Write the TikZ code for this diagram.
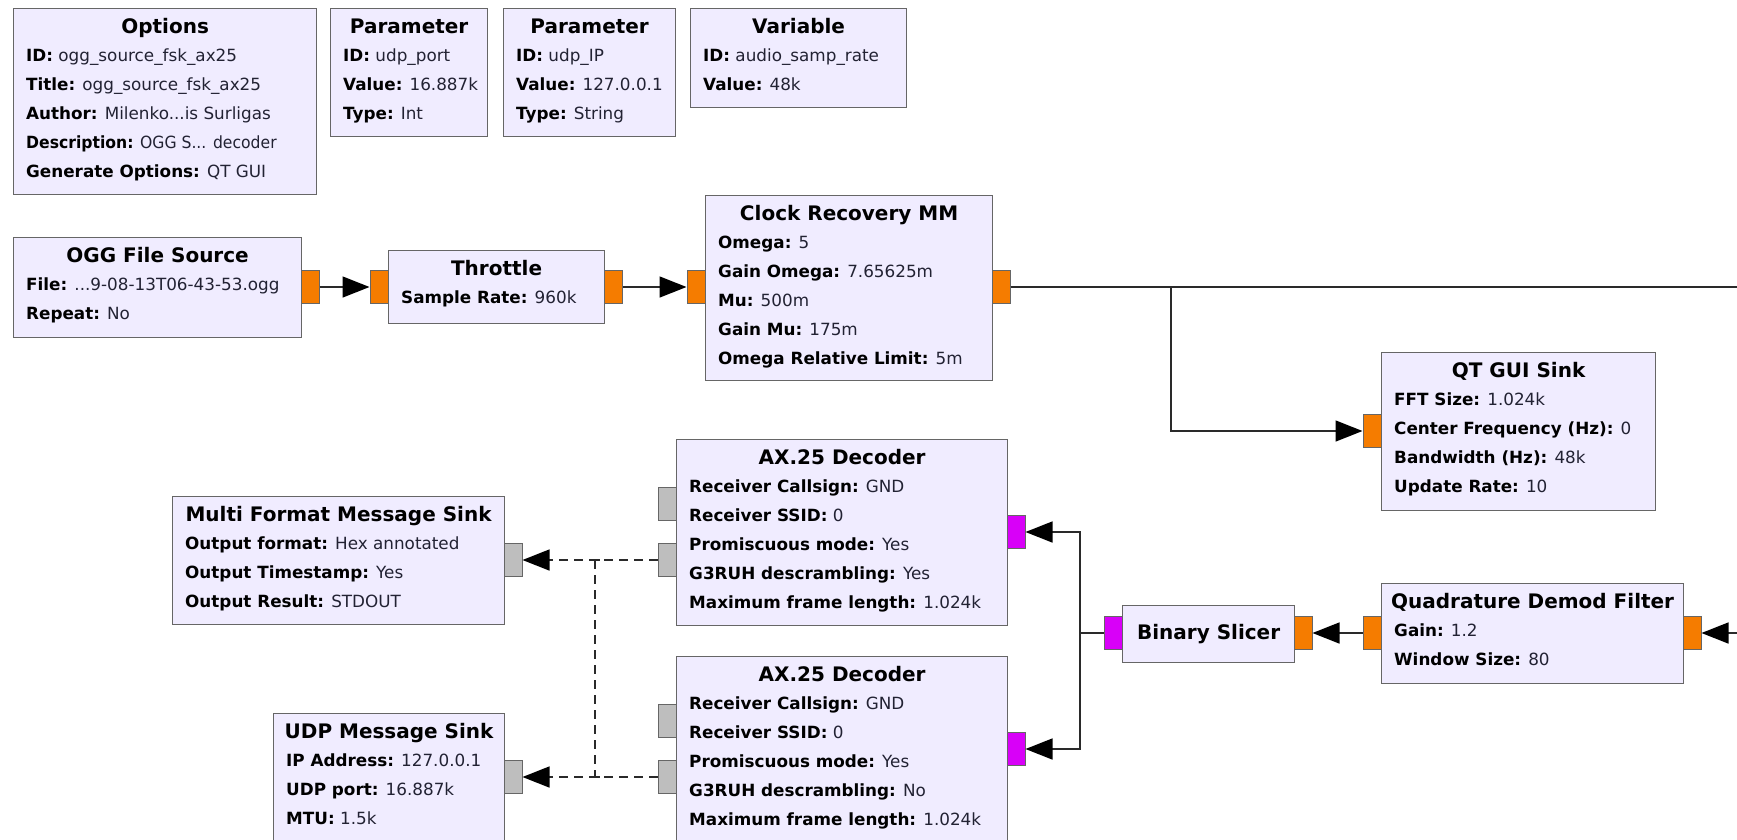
\documentclass[tikz,border=0pt]{standalone}
\usepackage{fontspec}
\setmainfont{DejaVu Sans}
\usetikzlibrary{arrows.meta}
\definecolor{blockfill}{HTML}{F0ECFF}
\definecolor{blockline}{HTML}{666666}
\definecolor{portorange}{HTML}{F57C00}
\definecolor{portmag}{HTML}{D800F8}
\definecolor{portgray}{HTML}{BEBEBE}
\definecolor{wirecol}{HTML}{2A2A2A}
\definecolor{valcol}{HTML}{222233}
\tikzset{
  blk/.style={draw=blockline, fill=blockfill, line width=1.2pt, inner sep=0pt, anchor=north west, shape=rectangle},
  ttl/.style={font=\fontsize{20}{24}\selectfont\bfseries, anchor=center, inner sep=0pt, text height=15pt, text depth=4pt},
  row/.style={font=\fontsize{16.8}{20}\selectfont, text=valcol, anchor=west, inner sep=0pt, text height=12pt, text depth=4pt},
  port/.style={draw=blockline, line width=1pt, minimum width=18pt, minimum height=33pt, inner sep=0pt, shape=rectangle},
  po/.style={port, fill=portorange},
  pm/.style={port, fill=portmag},
  pg/.style={port, fill=portgray},
  wire/.style={draw=wirecol, line width=1.5pt},
  tipstyle/.style={-{Triangle[length=27pt,width=21pt,fill=black,color=black]}},
  flow/.style={wire, tipstyle},
  msg/.style={wire, dash pattern=on 9pt off 6pt},
  msgflow/.style={msg, tipstyle},
}
\newcommand\blk[5]{\node[blk, minimum width={(#4-#2)*1pt}, minimum height={(#5-#3)*1pt}] (#1) at (#2,#3) {};}
\newcommand\btitle[2]{\node[ttl] (#1-t) at ([yshift=-20pt]#1.north) {#2};}
\newcommand\brow[3]{\node[row] (#1-r#2) at ([xshift=13pt,yshift={-49pt-29pt*(#2-1)}]#1.north west) {#3};}
\newcommand\lb[1]{\textbf{\color{black}#1}}
\begin{document}
\begin{tikzpicture}[x=1pt,y=-1pt]
\useasboundingbox (0,0) rectangle (1737,839);
\clip (0,0) rectangle (1737,839);
\fill[white] (0,0) rectangle (1737,839);

% ---------- blocks ----------
\blk{opt}{13}{8}{316}{194}
\btitle{opt}{Options}
\brow{opt}{1}{\lb{ID:} ogg\_source\_fsk\_ax25}
\brow{opt}{2}{\lb{Title:} ogg\_source\_fsk\_ax25}
\brow{opt}{3}{\lb{Author:} Milenko...is Surligas}
\brow{opt}{4}{\scalebox{0.93}[1]{\lb{Description:} OGG S... decoder}}
\brow{opt}{5}{\lb{Generate Options:} QT GUI}

\blk{pa}{330}{8}{487}{136}
\btitle{pa}{Parameter}
\brow{pa}{1}{\lb{ID:} udp\_port}
\brow{pa}{2}{\lb{Value:} 16.887k}
\brow{pa}{3}{\lb{Type:} Int}

\blk{pb}{503}{8}{675}{136}
\btitle{pb}{Parameter}
\brow{pb}{1}{\lb{ID:} udp\_IP}
\brow{pb}{2}{\lb{Value:} 127.0.0.1}
\brow{pb}{3}{\lb{Type:} String}

\blk{var}{690}{8}{906}{107}
\btitle{var}{Variable}
\brow{var}{1}{\lb{ID:} audio\_samp\_rate}
\brow{var}{2}{\lb{Value:} 48k}

\blk{ogg}{13}{237}{301}{337}
\btitle{ogg}{OGG File Source}
\brow{ogg}{1}{\lb{File:} ...9-08-13T06-43-53.ogg}
\brow{ogg}{2}{\lb{Repeat:} No}

\blk{thr}{388}{250}{604}{323}
\btitle{thr}{Throttle}
\brow{thr}{1}{\lb{Sample Rate:} 960k}

\blk{clk}{705}{195}{992}{380}
\btitle{clk}{Clock Recovery MM}
\brow{clk}{1}{\lb{Omega:} 5}
\brow{clk}{2}{\lb{Gain Omega:} 7.65625m}
\brow{clk}{3}{\lb{Mu:} 500m}
\brow{clk}{4}{\lb{Gain Mu:} 175m}
\brow{clk}{5}{\lb{Omega Relative Limit:} 5m}

\blk{qt}{1381}{352}{1655}{510}
\btitle{qt}{QT GUI Sink}
\brow{qt}{1}{\lb{FFT Size:} 1.024k}
\brow{qt}{2}{\lb{Center Frequency (Hz):} 0}
\brow{qt}{3}{\lb{Bandwidth (Hz):} 48k}
\brow{qt}{4}{\lb{Update Rate:} 10}

\blk{axa}{676}{439}{1007}{625}
\btitle{axa}{AX.25 Decoder}
\brow{axa}{1}{\lb{Receiver Callsign:} GND}
\brow{axa}{2}{\lb{Receiver SSID:} 0}
\brow{axa}{3}{\lb{Promiscuous mode:} Yes}
\brow{axa}{4}{\lb{G3RUH descrambling:} Yes}
\brow{axa}{5}{\lb{Maximum frame length:} 1.024k}

\blk{axb}{676}{656}{1007}{842}
\btitle{axb}{AX.25 Decoder}
\brow{axb}{1}{\lb{Receiver Callsign:} GND}
\brow{axb}{2}{\lb{Receiver SSID:} 0}
\brow{axb}{3}{\lb{Promiscuous mode:} Yes}
\brow{axb}{4}{\lb{G3RUH descrambling:} No}
\brow{axb}{5}{\lb{Maximum frame length:} 1.024k}

\blk{mfs}{172}{496}{504}{624}
\btitle{mfs}{Multi Format Message Sink}
\brow{mfs}{1}{\lb{Output format:} Hex annotated}
\brow{mfs}{2}{\lb{Output Timestamp:} Yes}
\brow{mfs}{3}{\lb{Output Result:} STDOUT}

\blk{udp}{273}{713}{504}{841}
\btitle{udp}{UDP Message Sink}
\brow{udp}{1}{\lb{IP Address:} 127.0.0.1}
\brow{udp}{2}{\lb{UDP port:} 16.887k}
\brow{udp}{3}{\lb{MTU:} 1.5k}

\blk{bs}{1122}{605}{1294}{662}
\node[ttl] (bs-t) at (bs.center) {Binary Slicer};

\blk{quad}{1381}{583}{1683}{683}
\btitle{quad}{Quadrature Demod Filter}
\brow{quad}{1}{\lb{Gain:} 1.2}
\brow{quad}{2}{\lb{Window Size:} 80}

% ---------- ports ----------
\node[po] (ogg-o) at (310,287) {};
\node[po] (thr-i) at (379,287) {};
\node[po] (thr-o) at (613,287) {};
\node[po] (clk-i) at (696,287) {};
\node[po] (clk-o) at (1001,287) {};
\node[po] (qt-i) at (1372,431) {};
\node[po] (quad-i) at (1692,633) {};
\node[po] (quad-o) at (1372,633) {};
\node[po] (bs-i) at (1303,633) {};
\node[pm] (bs-o) at (1113,633) {};
\node[pm] (axa-i) at (1016,532) {};
\node[pg] (axa-o1) at (667,504) {};
\node[pg] (axa-o2) at (667,560) {};
\node[pm] (axb-i) at (1016,749) {};
\node[pg] (axb-o1) at (667,721) {};
\node[pg] (axb-o2) at (667,777) {};
\node[pg] (mfs-i) at (513,560) {};
\node[pg] (udp-i) at (513,777) {};

% ---------- connectors ----------
\coordinate (edgeA) at (1745,287);
\coordinate (edgeB) at (1745,633);
\coordinate (brA) at (1171,0);
\coordinate (brB) at (1080,0);
\coordinate (brM) at (595,0);

\draw[flow] (ogg-o.east) -- (thr-i.west);
\draw[flow] (thr-o.east) -- (clk-i.west);
\draw[wire] (clk-o.east) -- (edgeA);
\draw[flow] (clk-o.east) -| (qt-i.west -| brA) -- (qt-i.west);
\draw[flow] (edgeB) -- (quad-i.east);
\draw[flow] (quad-o.west) -- (bs-i.east);
\draw[flow] (bs-o.west) -| (axa-i.east -| brB) -- (axa-i.east);
\draw[flow] (bs-o.west) -| (axb-i.east -| brB) -- (axb-i.east);

\draw[msgflow] (axa-o2.west) -- (mfs-i.east);
\draw[msgflow] (axb-o2.west) -- (udp-i.east);
\draw[msg] (axa-o2.west -| brM) -- (axb-o2.west -| brM);
\draw[wire] ([xshift=-5pt]axa-o2.west -| brM) -- ([xshift=5pt]axa-o2.west -| brM);
\draw[wire] ([xshift=-5pt]axb-o2.west -| brM) -- ([xshift=5pt]axb-o2.west -| brM);
\end{tikzpicture}
\end{document}
